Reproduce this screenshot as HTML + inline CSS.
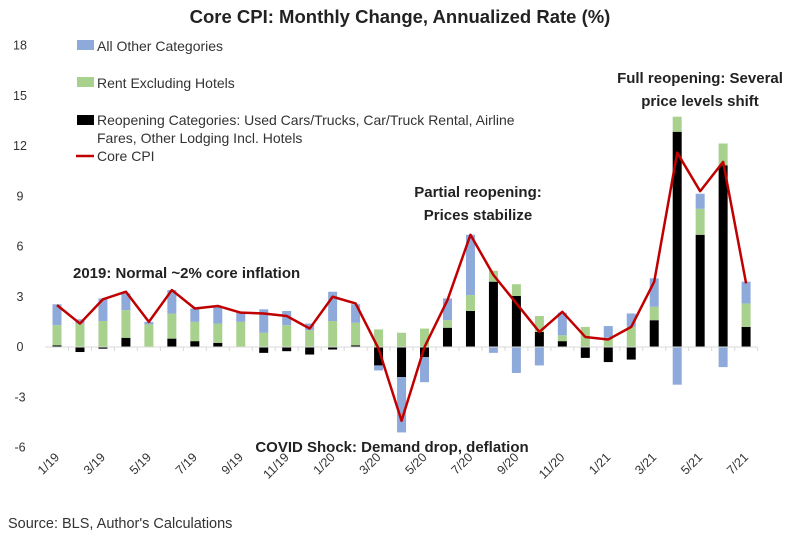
<!DOCTYPE html>
<html><head><meta charset="utf-8"><style>
body{margin:0;background:#fff;}
svg{display:block;font-family:"Liberation Sans",sans-serif;}
</style></head><body>
<svg id="chart" width="800" height="539">
<text x="400" y="23" text-anchor="middle" font-size="18.5" font-weight="bold" fill="#222">Core CPI: Monthly Change, Annualized Rate (%)</text>
<g id="yaxis"></g>
<g id="bars"></g>
<line x1="45" x2="757" y1="347" y2="347" stroke="#d9d9d9" stroke-width="1"/>
<g id="xaxis"></g>
<path id="line" fill="none" stroke="#c00000" stroke-width="2.5" stroke-linejoin="round"/>
<g font-size="14" fill="#333">
<g><rect x="77" y="40" width="17" height="10" fill="#8eaadb"/><text x="97" y="51">All Other Categories</text></g>
<g><rect x="77" y="77" width="17" height="10" fill="#a9d18e"/><text x="97" y="88">Rent Excluding Hotels</text></g>
<g><rect x="77" y="115" width="17" height="10" fill="#000"/><text x="97" y="125">Reopening Categories: Used Cars/Trucks, Car/Truck Rental, Airline</text><text x="97" y="143">Fares, Other Lodging Incl. Hotels</text></g>
<g><line x1="76" x2="94" y1="156" y2="156" stroke="#c00000" stroke-width="2.5"/><text x="97" y="161">Core CPI</text></g>
</g>
<g font-size="15" font-weight="bold" fill="#222">
<text x="73" y="278">2019: Normal ~2% core inflation</text>
<text x="478" y="197" text-anchor="middle">Partial reopening:</text>
<text x="478" y="220" text-anchor="middle">Prices stabilize</text>
<text x="700" y="83" text-anchor="middle">Full reopening: Several</text>
<text x="700" y="106" text-anchor="middle">price levels shift</text>
<text x="392" y="452" text-anchor="middle">COVID Shock: Demand drop, deflation</text>
</g>
<text x="8" y="528" font-size="14.5" fill="#333">Source: BLS, Author's Calculations</text>
</svg>
<script>
const months=["1/19","2/19","3/19","4/19","5/19","6/19","7/19","8/19","9/19","10/19","11/19","12/19","1/20","2/20","3/20","4/20","5/20","6/20","7/20","8/20","9/20","10/20","11/20","12/20","1/21","2/21","3/21","4/21","5/21","6/21","7/21"];
const reopening=[0.1,-0.3,-0.1,0.55,0,0.5,0.35,0.25,0,-0.35,-0.25,-0.45,-0.15,0.1,-1.1,-1.8,-0.6,1.15,2.15,3.9,3.05,0.9,0.35,-0.65,-0.9,-0.75,1.6,12.85,6.7,10.85,1.2];
const rent=[1.2,1.4,1.55,1.65,1.35,1.5,1.15,1.15,1.5,0.85,1.3,1.0,1.55,1.35,1.05,0.85,1.1,0.45,0.95,0.65,0.7,0.95,0.35,1.2,0.55,1.2,0.8,0.9,1.55,1.3,1.4];
const other=[1.25,0.25,1.35,1.0,0.15,1.4,0.8,1.0,0.55,1.4,0.85,0.4,1.75,1.1,-0.3,-3.3,-1.5,1.3,3.6,-0.35,-1.55,-1.1,1.35,0,0.7,0.8,1.7,-2.25,0.9,-1.2,1.3];
const coreCPI=[2.5,1.4,2.85,3.3,1.5,3.4,2.3,2.45,2.05,2.0,1.85,1.1,3.0,2.6,-0.1,-4.4,0,2.8,6.7,4.3,2.6,0.9,2.1,0.6,0.45,1.2,3.9,11.6,9.3,11.05,3.8];
const yTicks=[18,15,12,9,6,3,0,-3,-6];
const NS="http://www.w3.org/2000/svg";
const y=v=>347-v*16.75;
const x=i=>57+i*22.97;
const yg=document.getElementById('yaxis');
yTicks.forEach(t=>{const e=document.createElementNS(NS,'text');


e.setAttribute('x',20);e.setAttribute('y',y(t)+4);e.setAttribute('text-anchor','middle');e.setAttribute('font-size','12.5');e.setAttribute('fill','#333');e.textContent=t;yg.appendChild(e);});
const bg=document.getElementById('bars');
const series=[[reopening,'#000','reopening'],[rent,'#a9d18e','rent'],[other,'#8eaadb','other']];
months.forEach((m,i)=>{let pos=0,neg=0;
series.forEach(([arr,col,nm])=>{const v=arr[i];let a,b;
if(v>=0){a=pos;b=pos+v;pos=b;}else{a=neg;b=neg+v;neg=b;}
const r=document.createElementNS(NS,'rect');


r.setAttribute('x',x(i)-4.5);r.setAttribute('width',9);
r.setAttribute('y',Math.min(y(a),y(b)));r.setAttribute('height',Math.abs(y(a)-y(b)));r.setAttribute('fill',col);bg.appendChild(r);});});
const xg=document.getElementById('xaxis');
months.forEach((m,i)=>{
const tk=document.createElementNS(NS,'line');


const tx=x(i)+11.5;tk.setAttribute('x1',tx);tk.setAttribute('x2',tx);tk.setAttribute('y1',347);tk.setAttribute('y2',351);tk.setAttribute('stroke','#d9d9d9');xg.appendChild(tk);
if(i%2===0){const t=document.createElementNS(NS,'text');


const lx=x(i)+3,ly=458;t.setAttribute('x',lx);t.setAttribute('y',ly);t.setAttribute('text-anchor','end');t.setAttribute('font-size','12.5');t.setAttribute('fill','#333');t.setAttribute('transform',`rotate(-45 ${lx} ${ly})`);t.textContent=m;xg.appendChild(t);}});
document.getElementById('line').setAttribute('d',coreCPI.map((v,i)=>(i?'L':'M')+x(i)+' '+y(v)).join(' '));
</script>
</body></html>
